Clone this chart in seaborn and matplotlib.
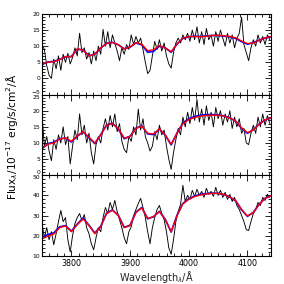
import numpy as np
import pandas as pd
import matplotlib
matplotlib.use("Agg")
import matplotlib.pyplot as plt
from matplotlib.ticker import MultipleLocator, AutoMinorLocator
import seaborn as sns

# ---------------- data ----------------
# observed spectra, sampled every 4 A starting at 3750 A
obs_start = 3750
obs_step = 4
obs_top = [10.5, 9.0, 4, 1, 0, 6, 3, 7, 2.5, 7.5, 5, 7.8, 4.5, 6.5, 9.5, 7, 14, 8, 9.5, 6,
           8, 4.5, 8.5, 5.5, 10, 7.5, 15.2, 10, 14.5, 9.5, 13.5, 11, 8.5, 5.5, 9.5, 7.5, 10.5, 9, 13.5, 10.5,
           13, 11, 12.5, 9, 5, 1.5, 2.5, 7, 11.5, 9, 12, 8.5, 11, 7, 4.5, 3.2, 8, 11, 12.5, 11,
           13.5, 12, 14, 11.5, 15, 12, 16, 11, 14.5, 10.5, 15.5, 12, 13.5, 10, 14.5, 11.5, 15, 12.5, 10, 14,
           11, 13.5, 9.5, 12.5, 14, 19, 10.5, 8, 5.5, 9.5, 12, 10, 13.5, 11, 13, 10.5, 13.5, 12]
obs_mid = [18.5, 9, 12, 7.5, 4.5, 11, 8, 12.5, 10, 15, 9.5, 12, 3.5, 9, 14, 11, 19, 12.5, 15.5, 10,
           13, 7, 3.5, 9.5, 12, 10, 14.5, 17.5, 14, 18.5, 15, 19, 13.5, 16, 10.5, 8, 7, 12, 10.5, 15,
           12.5, 20.5, 14, 17.5, 12, 10, 7.5, 9, 13.5, 11, 15.5, 12.5, 14, 9, 5, 1.8, 7, 11, 14.5, 12.5,
           18, 15, 19.5, 16, 21, 17, 23.5, 16.5, 20.5, 15.5, 21.5, 17, 19.5, 15, 21, 17.5, 20, 15.5, 19, 16.5,
           20, 14.5, 18, 15, 17.5, 13, 14.5, 10, 9.5, 13, 15.5, 13, 18, 15, 19, 15.5, 18.5, 16]
obs_bot = [26, 19, 24, 18, 22, 15.5, 21, 27, 32.5, 27, 29, 18, 12, 20, 26, 29, 31, 27.5, 30.5, 24,
           21, 16, 13, 19, 24, 22, 29, 34, 31, 36.5, 33, 37.5, 32, 28, 24, 19, 16, 22, 24.5, 30,
           33, 36, 38.5, 34, 29, 22, 16, 24, 29, 33, 35, 31, 28, 22, 14, 10.8, 18, 27, 32, 35.5,
           45, 37, 40, 38, 42.5, 39.5, 43, 40, 42, 39, 43.5, 40.5, 42, 39.5, 44, 40, 42.5, 39, 41.5, 38,
           40.5, 37, 39, 35, 33, 30, 27, 23, 22.6, 27, 31, 33, 36.5, 35, 39, 37.5, 40.5, 39]

# model spectra, sampled every 10 A starting at 3750 A
mod_start = 3750
mod_step = 10
red_top = [4.6, 5.0, 5.2, 5.8, 6.8, 6.7, 9.2, 8.8, 6.9, 7.6, 9.5, 10.8, 11.1, 10.5, 9.1, 9.8, 11.1, 10.6, 8.6, 8.9,
           10.2, 9.4, 8.3, 10.6, 12.5, 13.0, 13.0, 12.9, 13.1, 13.3, 13.4, 13.2, 13.0, 12.6, 11.6, 10.8, 11.0, 11.8, 12.6, 13.0]
blue_top = [4.3, 5.1, 5.3, 5.9, 6.7, 6.8, 9.0, 8.9, 7.0, 7.5, 9.4, 10.9, 11.2, 10.4, 9.2, 9.7, 11.0, 10.4, 8.1, 8.4,
            10.0, 9.5, 8.1, 10.7, 12.4, 12.9, 13.1, 13.0, 13.2, 13.3, 13.3, 13.1, 12.9, 12.4, 11.4, 10.6, 11.1, 11.9, 12.5, 12.9]
red_mid = [8.4, 9.6, 10.0, 11.2, 11.6, 10.5, 12.2, 13.5, 11.8, 10.0, 12.5, 15.5, 16.0, 14.5, 11.5, 12.0, 14.5, 15.2, 13.0, 12.8,
           14.4, 12.5, 9.6, 13.0, 16.0, 17.2, 17.9, 18.3, 18.5, 18.6, 18.6, 18.3, 17.7, 16.8, 14.7, 13.2, 14.0, 15.8, 17.2, 17.8]
blue_mid = [8.2, 9.8, 10.2, 11.3, 11.5, 10.3, 12.1, 13.4, 11.6, 9.8, 12.6, 15.6, 16.1, 14.3, 11.3, 12.1, 14.6, 15.3, 12.8, 12.6,
            14.3, 12.4, 9.4, 13.1, 16.2, 17.5, 18.2, 18.6, 18.8, 18.8, 18.7, 18.4, 17.8, 16.7, 14.5, 13.0, 14.1, 15.9, 17.1, 17.7]
red_bot = [18.4, 19.8, 20.8, 24.0, 24.8, 22.0, 25.5, 28.3, 25.0, 21.0, 24.5, 31.0, 32.6, 30.0, 24.0, 25.0, 31.5, 33.8, 28.5, 29.5,
           32.0, 28.0, 22.0, 30.0, 35.8, 38.0, 39.4, 40.2, 40.7, 41.0, 41.0, 40.4, 39.3, 37.4, 33.0, 29.8, 31.5, 35.5, 38.5, 39.8]
blue_bot = [19.2, 20.6, 21.4, 24.4, 25.0, 22.3, 25.8, 28.8, 25.2, 21.3, 24.7, 31.2, 32.8, 30.1, 24.2, 25.2, 31.7, 34.0, 28.4, 29.4,
            32.1, 28.1, 21.8, 30.2, 36.0, 38.3, 39.7, 40.5, 40.9, 41.1, 41.0, 40.4, 39.2, 37.2, 32.8, 29.6, 31.6, 35.6, 38.6, 39.9]

ylims = [(-5, 20), (0, 25), (10, 50)]
ymajor = [5, 5, 10]
xlim = (3750, 4140)

# ---------------- plot ----------------
sns.set_style("ticks")
plt.rcParams['font.family'] = ['DejaVu Sans']
plt.rcParams['text.color'] = 'black'
plt.rcParams['xtick.color'] = 'black'
plt.rcParams['ytick.color'] = 'black'

fig, axes = plt.subplots(3, 1, figsize=(2.84, 2.84), dpi=100, sharex=True,
                         gridspec_kw=dict(hspace=0))
fig.subplots_adjust(left=0.148, right=0.954, bottom=0.099, top=0.951)

obs_all = [obs_top, obs_mid, obs_bot]
red_all = [red_top, red_mid, red_bot]
blue_all = [blue_top, blue_mid, blue_bot]

for i, ax in enumerate(axes):
    obs = obs_all[i]
    wave_o = obs_start + obs_step * np.arange(len(obs))
    wave_m = mod_start + mod_step * np.arange(len(red_all[i]))
    df_o = pd.DataFrame({"wave": wave_o, "flux": obs})
    df_b = pd.DataFrame({"wave": wave_m, "flux": blue_all[i]})
    df_r = pd.DataFrame({"wave": wave_m, "flux": red_all[i]})
    sns.lineplot(data=df_o, x="wave", y="flux", ax=ax, color="black", lw=0.65)
    sns.lineplot(data=df_b, x="wave", y="flux", ax=ax, color="blue", lw=1.2)
    sns.lineplot(data=df_r, x="wave", y="flux", ax=ax, color="red", lw=1.0)
    ax.set_xlim(*xlim)
    ax.set_ylim(*ylims[i])
    ax.yaxis.set_major_locator(MultipleLocator(ymajor[i]))
    ax.yaxis.set_minor_locator(AutoMinorLocator(5))
    ax.xaxis.set_major_locator(MultipleLocator(100))
    ax.xaxis.set_minor_locator(AutoMinorLocator(8))
    ax.tick_params(which="both", direction="in", top=True, right=True, width=0.6, color="black")
    ax.tick_params(which="major", length=4)
    ax.tick_params(which="minor", length=2)
    ax.tick_params(axis="y", labelsize=4.3, pad=1.5)
    ax.tick_params(axis="x", labelsize=5.8, pad=2)
    ax.set_xlabel("")
    ax.set_ylabel("")
    for s in ax.spines.values():
        s.set_linewidth(0.8)
        s.set_color("black")

# keep boundary labels from colliding: push them inside their own panel
fig.canvas.draw()
for i, ax in enumerate(axes):
    lo, hi = ylims[i]
    for t, v in zip(ax.get_yticklabels(), ax.get_yticks()):
        if abs(v - lo) < 1e-6 and i < 2:
            t.set_va("bottom")
        if abs(v - hi) < 1e-6 and i > 0:
            t.set_va("top")

axes[2].set_xlabel(r"Wavelength$_\lambda$/Å", fontsize=7.0, labelpad=1)
fig.text(0.042, 0.52, r"Flux$_\lambda$/10$^{-17}$ erg/s/cm$^2$/Å", rotation=90,
         ha="center", va="center", fontsize=7.6)

fig.savefig("out.png", dpi=100)
